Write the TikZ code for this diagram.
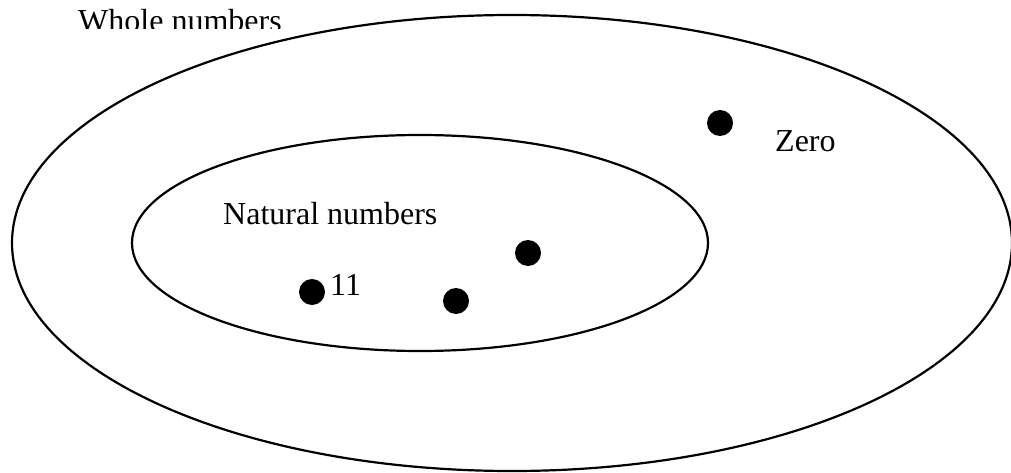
\documentclass[tikz,border=0pt]{standalone}
\usepackage{fontspec}
\setmainfont{Liberation Serif}
\begin{document}
\begin{tikzpicture}[x=1pt,y=-1pt,
  setline/.style={line width=2.2pt,draw=black},
  dotmark/.style={circle,fill=black,minimum size=26pt,inner sep=0pt},
  lbl/.style={anchor=base west,inner sep=0pt,font=\fontsize{32}{37}\selectfont}]
\useasboundingbox (0,0) rectangle (1011,473);
\draw[setline] (512,243) ellipse [x radius=500, y radius=228];
\draw[setline] (420,243) ellipse [x radius=288, y radius=108];
\begin{scope}
\clip (0,0) rectangle (1011,29);
\node[lbl] (whole) at (78,32) {Whole numbers};
\end{scope}
\node[lbl] (nat) at (223,224) {Natural numbers};
\node[lbl] (zerolbl) at (775,152) {Zero};
\node[lbl] (elevenlbl) at (330,295) {11};
\node[dotmark] (zero) at (720,123) {};
\node[dotmark] (a) at (528,253) {};
\node[dotmark] (eleven) at (312,292) {};
\node[dotmark] (b) at (456,301) {};
\end{tikzpicture}
\end{document}
